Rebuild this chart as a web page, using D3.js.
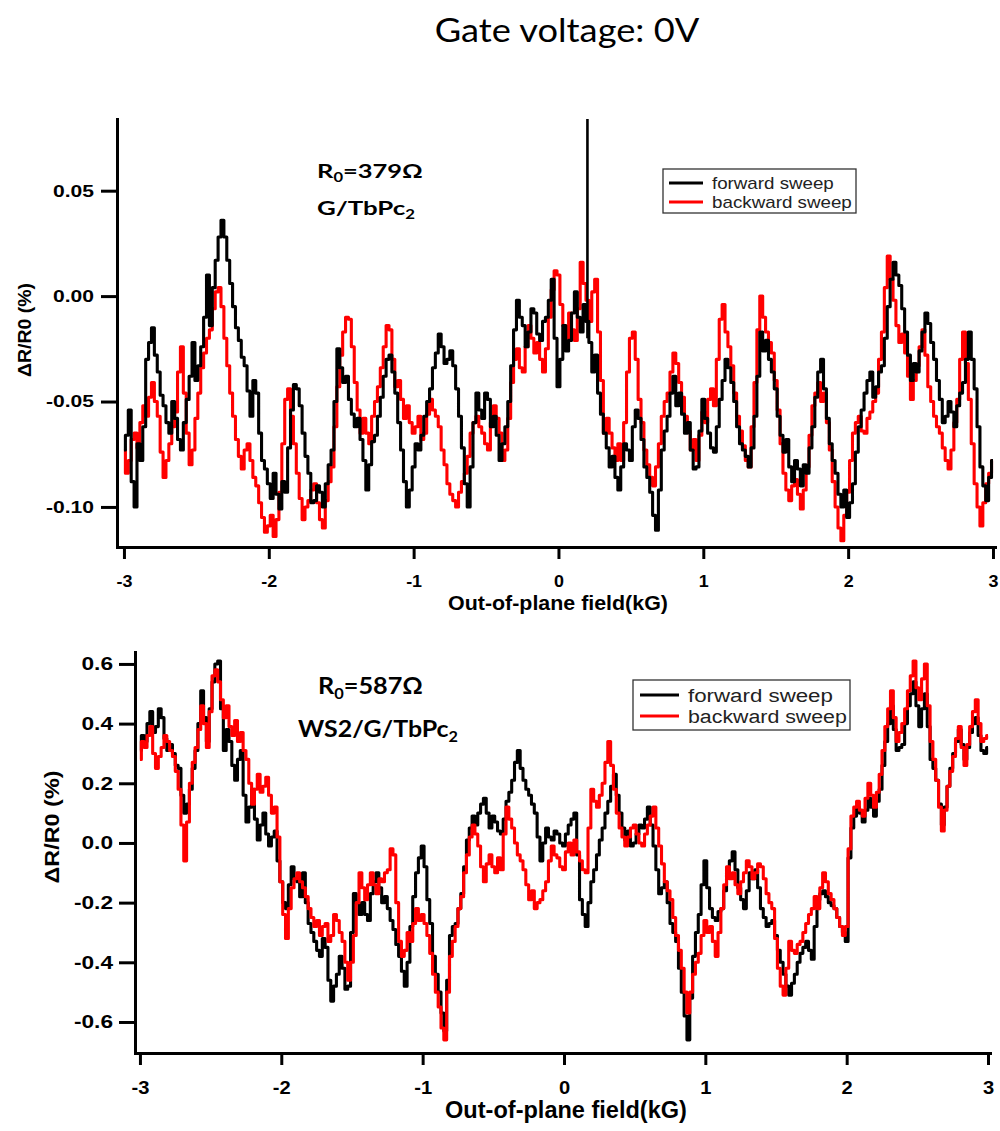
<!DOCTYPE html>
<html><head><meta charset="utf-8">
<script src="https://cdn.jsdelivr.net/npm/d3@7"></script>
<style>body{margin:0;background:#fff} svg{display:block}</style>
</head><body>
<svg id="chart" width="1000" height="1131"></svg>
<script>
// ---------------- DATA ----------------
const titleText = "Gate voltage: 0V";
const fieldStart = -3.0, fieldStep = 0.02;           // sampling grid of the field (kG)
const fieldTicks = [-3, -2, -1, 0, 1, 2, 3];
const seriesNames = ["forward sweep", "backward sweep"];

// Panel 1: G/TbPc2, R0 = 379 Ω
const topYTicks = [0.05, 0.00, -0.05, -0.10];
const topForward = [
 -0.073,-0.066,-0.054,-0.088,-0.100,-0.070,-0.078,-0.062,-0.030,-0.022,
 -0.015,-0.028,-0.036,-0.047,-0.052,-0.060,-0.065,-0.050,-0.058,-0.068,
 -0.073,-0.060,-0.049,-0.038,-0.022,-0.040,-0.033,-0.024,-0.010, 0.010,
 -0.014, 0.004, 0.017, 0.028, 0.036, 0.028, 0.017, 0.006,-0.005,-0.015,
 -0.021,-0.029,-0.033,-0.045,-0.057,-0.040,-0.046,-0.065,-0.078,-0.082,
 -0.089,-0.096,-0.084,-0.094,-0.101,-0.088,-0.093,-0.072,-0.054,-0.042,
 -0.044,-0.052,-0.065,-0.076,-0.084,-0.098,-0.097,-0.090,-0.093,-0.100,
 -0.089,-0.080,-0.073,-0.050,-0.025,-0.034,-0.041,-0.038,-0.049,-0.056,
 -0.062,-0.058,-0.068,-0.078,-0.092,-0.080,-0.069,-0.066,-0.057,-0.048,
 -0.038,-0.030,-0.028,-0.036,-0.046,-0.060,-0.073,-0.088,-0.100,-0.092,
 -0.081,-0.070,-0.073,-0.066,-0.057,-0.050,-0.044,-0.034,-0.027,-0.018,
 -0.024,-0.032,-0.030,-0.026,-0.033,-0.044,-0.057,-0.072,-0.089,-0.100,
 -0.081,-0.060,-0.046,-0.054,-0.058,-0.046,-0.049,-0.062,-0.057,-0.066,
 -0.078,-0.070,-0.062,-0.050,-0.033,-0.016,-0.002,-0.010,-0.014,-0.024,
 -0.017,-0.006,-0.008,-0.018,-0.021,-0.012,-0.010,-0.002, 0.008,-0.020,
 -0.043,-0.030,-0.014,-0.026,-0.021,-0.008, 0.002,-0.010,-0.017,-0.004,
 -0.012,-0.022,-0.036,-0.028,-0.046,-0.056,-0.065,-0.072,-0.081,-0.076,
 -0.086,-0.092,-0.081,-0.070,-0.073,-0.078,-0.062,-0.054,-0.058,-0.068,
 -0.081,-0.086,-0.093,-0.104,-0.111,-0.092,-0.073,-0.064,-0.057,-0.046,
 -0.038,-0.052,-0.046,-0.056,-0.065,-0.060,-0.073,-0.082,-0.081,-0.064,
 -0.049,-0.058,-0.065,-0.072,-0.074,-0.062,-0.049,-0.040,-0.030,-0.034,
 -0.041,-0.050,-0.062,-0.070,-0.073,-0.076,-0.081,-0.072,-0.057,-0.038,
 -0.017,-0.026,-0.021,-0.030,-0.036,-0.044,-0.057,-0.066,-0.074,-0.068,
 -0.081,-0.088,-0.078,-0.082,-0.090,-0.080,-0.084,-0.072,-0.062,-0.048,
 -0.036,-0.030,-0.044,-0.058,-0.070,-0.078,-0.084,-0.094,-0.100,-0.092,
 -0.105,-0.098,-0.089,-0.074,-0.062,-0.054,-0.046,-0.040,-0.036,-0.048,
 -0.043,-0.036,-0.033,-0.020,-0.005, 0.008, 0.016, 0.010, 0.005,-0.006,
 -0.017,-0.028,-0.040,-0.032,-0.036,-0.026,-0.017,-0.008,-0.013,-0.022,
 -0.030,-0.040,-0.049,-0.060,-0.057,-0.050,-0.055,-0.062,-0.052,-0.046,
 -0.041,-0.030,-0.017,-0.030,-0.044,-0.062,-0.081,-0.090,-0.097,-0.086,
 -0.078];
const topBackward = [
 -0.073,-0.084,-0.078,-0.068,-0.065,-0.072,-0.060,-0.052,-0.057,-0.048,
 -0.041,-0.050,-0.057,-0.074,-0.086,-0.078,-0.070,-0.062,-0.055,-0.036,
 -0.024,-0.046,-0.065,-0.080,-0.073,-0.058,-0.046,-0.034,-0.027,-0.020,
 -0.016,-0.006, 0.002, 0.004,-0.005,-0.020,-0.033,-0.046,-0.057,-0.068,
 -0.076,-0.082,-0.073,-0.070,-0.078,-0.086,-0.090,-0.098,-0.105,-0.112,
 -0.109,-0.104,-0.114,-0.106,-0.093,-0.070,-0.049,-0.044,-0.057,-0.070,
 -0.084,-0.096,-0.106,-0.100,-0.097,-0.092,-0.089,-0.098,-0.106,-0.110,
 -0.097,-0.088,-0.081,-0.062,-0.043,-0.028,-0.017,-0.010,-0.011,-0.024,
 -0.041,-0.054,-0.065,-0.058,-0.065,-0.070,-0.057,-0.050,-0.043,-0.034,
 -0.024,-0.014,-0.016,-0.030,-0.043,-0.040,-0.049,-0.058,-0.052,-0.060,
 -0.065,-0.062,-0.057,-0.068,-0.065,-0.056,-0.049,-0.054,-0.057,-0.062,
 -0.073,-0.080,-0.089,-0.094,-0.097,-0.100,-0.093,-0.088,-0.084,-0.076,
 -0.065,-0.060,-0.057,-0.062,-0.065,-0.070,-0.073,-0.060,-0.052,-0.058,
 -0.065,-0.078,-0.073,-0.058,-0.041,-0.030,-0.025,-0.034,-0.036,-0.024,
 -0.014,-0.020,-0.027,-0.022,-0.030,-0.036,-0.025,-0.010, 0.003, 0.012,
  0.010,-0.004,-0.014,-0.020,-0.008,-0.016,-0.021,-0.006, 0.016, 0.006,
 -0.002,-0.012, 0.002, 0.008,-0.017,-0.040,-0.065,-0.058,-0.065,-0.072,
 -0.078,-0.070,-0.078,-0.060,-0.036,-0.020,-0.017,-0.030,-0.049,-0.060,
 -0.073,-0.080,-0.086,-0.090,-0.081,-0.070,-0.057,-0.050,-0.046,-0.036,
 -0.027,-0.032,-0.041,-0.048,-0.057,-0.064,-0.073,-0.068,-0.078,-0.066,
 -0.055,-0.060,-0.049,-0.044,-0.052,-0.030,-0.011,-0.004,-0.017,-0.024,
 -0.033,-0.046,-0.057,-0.064,-0.071,-0.078,-0.081,-0.062,-0.041,-0.016,
  0.000,-0.010,-0.017,-0.022,-0.027,-0.040,-0.054,-0.070,-0.084,-0.092,
 -0.097,-0.090,-0.087,-0.094,-0.101,-0.092,-0.081,-0.066,-0.052,-0.046,
 -0.041,-0.050,-0.046,-0.060,-0.073,-0.088,-0.100,-0.110,-0.116,-0.104,
 -0.093,-0.078,-0.065,-0.060,-0.057,-0.064,-0.065,-0.058,-0.055,-0.050,
 -0.046,-0.030,-0.017, 0.004, 0.019, 0.008,-0.002,-0.014,-0.022,-0.018,
 -0.027,-0.038,-0.049,-0.040,-0.033,-0.024,-0.016,-0.028,-0.043,-0.050,
 -0.057,-0.062,-0.065,-0.072,-0.078,-0.082,-0.073,-0.060,-0.049,-0.030,
 -0.017,-0.032,-0.049,-0.070,-0.089,-0.100,-0.109,-0.098,-0.089,-0.084,
 -0.078];
// single glitch of the forward sweep near 0.2 kG
const topSpikeField = [0.2];
const topSpikeLow = [-0.02];
const topSpikeHigh = [0.09];

// Panel 2: WS2/G/TbPc2, R0 = 587 Ω
const bottomYTicks = [0.6, 0.4, 0.2, 0.0, -0.2, -0.4, -0.6];
const bottomForward = [
  0.31, 0.36, 0.34, 0.40, 0.44, 0.37, 0.39, 0.45, 0.42, 0.35,
  0.31, 0.33, 0.30, 0.26, 0.25, 0.16, 0.10, 0.13, 0.18, 0.25,
  0.31, 0.40, 0.51, 0.42, 0.34, 0.45, 0.54, 0.60, 0.61, 0.45,
  0.31, 0.38, 0.34, 0.26, 0.21, 0.28, 0.31, 0.16, 0.07, 0.12,
  0.18, 0.08, 0.01, 0.06, 0.10, 0.03,-0.01, 0.02, 0.04,-0.06,
 -0.13,-0.20,-0.22,-0.14,-0.08,-0.12,-0.13,-0.18,-0.10,-0.20,
 -0.27,-0.30,-0.33,-0.36,-0.38,-0.32,-0.35,-0.46,-0.53,-0.48,
 -0.44,-0.38,-0.42,-0.49,-0.48,-0.30,-0.17,-0.20,-0.24,-0.20,
 -0.24,-0.26,-0.17,-0.13,-0.10,-0.15,-0.20,-0.18,-0.22,-0.26,
 -0.29,-0.34,-0.38,-0.43,-0.48,-0.40,-0.28,-0.18,-0.10,-0.05,
 -0.01,-0.08,-0.19,-0.27,-0.38,-0.44,-0.50,-0.57,-0.63,-0.46,
 -0.31,-0.28,-0.27,-0.22,-0.17,-0.08, 0.01, 0.05, 0.09, 0.06,
  0.10, 0.13, 0.15, 0.10, 0.05, 0.09, 0.07, 0.04, 0.03, 0.08,
  0.14, 0.17, 0.21, 0.27, 0.31, 0.25, 0.21, 0.18, 0.16, 0.13,
  0.10, 0.02,-0.06, 0.00, 0.05, 0.02, 0.01, 0.04, 0.03, 0.00,
 -0.01, 0.03, 0.06, 0.08, 0.10,-0.04,-0.19,-0.24,-0.28,-0.20,
 -0.13,-0.09,-0.04, 0.01, 0.05, 0.10, 0.14, 0.19, 0.23, 0.16,
  0.10, 0.05, 0.01, 0.04,-0.01, 0.00, 0.03, 0.06, 0.05, 0.08,
  0.12, 0.06,-0.01,-0.09,-0.17,-0.15,-0.13,-0.20,-0.27,-0.30,
 -0.33,-0.42,-0.50,-0.58,-0.66,-0.52,-0.38,-0.30,-0.24,-0.14,
 -0.06,-0.15,-0.22,-0.25,-0.26,-0.23,-0.22,-0.16,-0.10,-0.06,
 -0.03,-0.09,-0.15,-0.19,-0.22,-0.16,-0.10,-0.12,-0.09,-0.15,
 -0.22,-0.25,-0.28,-0.27,-0.26,-0.31,-0.36,-0.40,-0.44,-0.48,
 -0.51,-0.47,-0.44,-0.40,-0.37,-0.35,-0.33,-0.36,-0.39,-0.28,
 -0.19,-0.17,-0.16,-0.18,-0.20,-0.21,-0.22,-0.25,-0.28,-0.30,
 -0.33,-0.05, 0.05, 0.09, 0.12, 0.10, 0.07, 0.11, 0.15, 0.12,
  0.09, 0.14, 0.18, 0.26, 0.34, 0.40, 0.46, 0.38, 0.31, 0.32,
  0.33, 0.40, 0.46, 0.50, 0.54, 0.46, 0.39, 0.45, 0.50, 0.39,
  0.28, 0.25, 0.21, 0.13, 0.06, 0.12, 0.19, 0.25, 0.30, 0.34,
  0.38, 0.33, 0.28, 0.32, 0.37, 0.40, 0.42, 0.36, 0.31, 0.30,
  0.32];
const bottomBackward = [
  0.28, 0.34, 0.32, 0.36, 0.39, 0.30, 0.25, 0.29, 0.32, 0.36,
  0.34, 0.31, 0.29, 0.24, 0.18, 0.06,-0.06, 0.07, 0.20, 0.27,
  0.32, 0.38, 0.46, 0.40, 0.32, 0.44, 0.56, 0.58, 0.54, 0.48,
  0.42, 0.46, 0.39, 0.36, 0.41, 0.34, 0.37, 0.31, 0.28, 0.20,
  0.13, 0.18, 0.23, 0.17, 0.19, 0.22, 0.16, 0.10, 0.12, 0.02,
 -0.13,-0.24,-0.32,-0.22,-0.15,-0.12,-0.10,-0.13,-0.15,-0.18,
 -0.22,-0.25,-0.28,-0.26,-0.31,-0.28,-0.27,-0.33,-0.31,-0.24,
 -0.26,-0.30,-0.33,-0.40,-0.46,-0.40,-0.31,-0.20,-0.10,-0.15,
 -0.19,-0.14,-0.10,-0.14,-0.17,-0.12,-0.13,-0.10,-0.09,-0.02,
 -0.04,-0.20,-0.33,-0.38,-0.36,-0.30,-0.33,-0.27,-0.22,-0.26,
 -0.24,-0.27,-0.31,-0.37,-0.44,-0.50,-0.55,-0.62,-0.66,-0.50,
 -0.38,-0.33,-0.28,-0.22,-0.18,-0.10,-0.04, 0.02, 0.06, 0.03,
 -0.01,-0.08,-0.13,-0.07,-0.04,-0.08,-0.10,-0.05,-0.09, 0.03,
  0.12, 0.08, 0.05, 0.00,-0.04,-0.06,-0.09,-0.14,-0.19,-0.16,
 -0.22,-0.20,-0.19,-0.16,-0.13,-0.06,-0.01,-0.04,-0.05,-0.08,
 -0.09,-0.03, 0.00,-0.04, 0.01,-0.03,-0.06,-0.09,-0.10, 0.05,
  0.18, 0.14, 0.12, 0.16, 0.20, 0.27, 0.34, 0.26, 0.18, 0.10,
  0.05, 0.02,-0.01, 0.02, 0.05, 0.06, 0.03, 0.00,-0.01, 0.03,
  0.06, 0.09, 0.12, 0.05,-0.01,-0.07,-0.13,-0.16,-0.19,-0.25,
 -0.31,-0.36,-0.42,-0.50,-0.57,-0.50,-0.44,-0.40,-0.37,-0.31,
 -0.26,-0.30,-0.28,-0.33,-0.38,-0.30,-0.22,-0.14,-0.08,-0.12,
 -0.10,-0.14,-0.17,-0.13,-0.10,-0.06,-0.08,-0.12,-0.10,-0.07,
 -0.08,-0.12,-0.17,-0.20,-0.22,-0.32,-0.42,-0.48,-0.51,-0.42,
 -0.33,-0.36,-0.37,-0.34,-0.33,-0.30,-0.27,-0.24,-0.22,-0.18,
 -0.22,-0.15,-0.10,-0.13,-0.17,-0.19,-0.22,-0.25,-0.28,-0.31,
 -0.28,-0.02, 0.09, 0.12, 0.14, 0.11, 0.09, 0.15, 0.20, 0.16,
  0.12, 0.17, 0.23, 0.31, 0.39, 0.45, 0.51, 0.42, 0.34, 0.37,
  0.40, 0.45, 0.51, 0.56, 0.61, 0.52, 0.48, 0.55, 0.60, 0.46,
  0.34, 0.28, 0.21, 0.12, 0.04, 0.11, 0.19, 0.24, 0.29, 0.35,
  0.39, 0.32, 0.26, 0.33, 0.39, 0.44, 0.48, 0.40, 0.34, 0.35,
  0.36];

// ---------------- DRAWING ----------------
const svg = d3.select("#chart");
const AXIS_FONT = "'Liberation Sans', Arial, sans-serif";
const NOTE_FONT = "Lato, 'Open Sans', sans-serif";
const hy = s => s.replace(/\u2212/g, "-");

// horizontally scale a text element about an anchor so it has a given width
function fitWidth(sel, target, anchor) {
  const n = sel.node(); const b = n.getBBox();
  if (!b.width) return;
  const sx = target / b.width;
  const ax = anchor === "end" ? b.x + b.width : anchor === "middle" ? b.x + b.width / 2 : b.x;
  const prev = sel.attr("transform") || "";
  sel.attr("transform", `${prev} translate(${ax},0) scale(${sx},1) translate(${-ax},0)`);
}
function stretch(sel, f, anchor) {
  sel.each(function () { const s = d3.select(this); fitWidth(s, this.getBBox().width * f, anchor); });
}

// title
const title = svg.append("text").attr("x", 567).attr("y", 42).attr("text-anchor", "middle")
  .style("font-family", NOTE_FONT).style("font-size", "32px").attr("fill", "#000").text(titleText);
fitWidth(title, 265, "middle");

function toSeries(vals) { return vals.map((v, i) => ({ f: fieldStart + i * fieldStep, v })); }

function panel(c) {
  const g = svg.append("g");
  const x = d3.scaleLinear().domain(c.xDomain).range(c.xRange);
  const y = d3.scaleLinear().domain(c.yDomain).range(c.yRange);
  const clipId = "clip" + c.id;
  svg.append("clipPath").attr("id", clipId).append("rect")
    .attr("x", c.xRange[0]).attr("y", c.yRange[1])
    .attr("width", c.xRange[1] - c.xRange[0]).attr("height", c.yRange[0] - c.yRange[1]);

  const line = d3.line().x(d => x(d.f)).y(d => y(d.v)).curve(d3.curveStep);
  const plot = g.append("g").attr("clip-path", `url(#${clipId})`);
  c.order.forEach(s => {
    plot.append("path").datum(toSeries(s.values))
      .attr("fill", "none").attr("stroke", s.color).attr("stroke-width", 3.1)
      .attr("stroke-linejoin", "round").attr("d", line);
  });
  if (c.spike) {
    c.spike.field.forEach((f, i) => {
      plot.append("line").attr("x1", x(f)).attr("x2", x(f))
        .attr("y1", y(c.spike.low[i])).attr("y2", y(c.spike.high[i]))
        .attr("stroke", "#000").attr("stroke-width", 2.6);
    });
  }

  // axes
  const xAxis = g.append("g").attr("transform", `translate(0,${c.yRange[0]})`)
    .call(d3.axisBottom(x).tickValues(fieldTicks).tickSizeInner(c.xTickSize).tickSizeOuter(0)
      .tickPadding(c.xTickPad).tickFormat(d => hy(d3.format("d")(d))));
  const yAxis = g.append("g").attr("transform", `translate(${c.xRange[0]},0)`)
    .call(d3.axisLeft(y).tickValues(c.yTicks).tickSizeInner(c.yTickSize).tickSizeOuter(0)
      .tickPadding(c.yTickPad).tickFormat(d => hy(d3.format(c.yFormat)(d))));
  [xAxis, yAxis].forEach(a => {
    a.select(".domain").attr("stroke", "#000").attr("stroke-width", 3).attr("stroke-linecap", "square");
    a.selectAll(".tick line").attr("stroke", "#000").attr("stroke-width", 3);
    a.selectAll("text").style("font-family", AXIS_FONT).style("font-weight", "bold").attr("fill", "#000");
  });
  xAxis.selectAll("text").style("font-size", c.xTickFont + "px");
  yAxis.selectAll("text").style("font-size", c.yTickFont + "px");
  stretch(xAxis.selectAll(".tick text"), c.xTickStretch, "middle");
  stretch(yAxis.selectAll(".tick text"), c.yTickStretch, "end");

  // axis titles
  const xt = g.append("text").attr("x", c.xTitle[0]).attr("y", c.xTitle[1]).attr("text-anchor", "middle")
    .style("font-family", AXIS_FONT).style("font-weight", "bold").style("font-size", c.xTitleFont + "px")
    .text("Out-of-plane field(kG)");
  fitWidth(xt, c.xTitle[2], "middle");
  const ytg = g.append("g").attr("transform", `translate(${c.yTitle[0]},${c.yTitle[1]}) rotate(-90)`);
  const yt = ytg.append("text").attr("x", 0).attr("y", 0).attr("text-anchor", "middle").attr("dy", "0.35em")
    .style("font-family", AXIS_FONT).style("font-weight", "bold").style("font-size", c.yTitleFont + "px")
    .text("\u0394R/R0 (%)");
  fitWidth(yt, c.yTitle[2], "middle");

  // annotations (with subscripts)
  c.notes.forEach(nt => {
    const t = g.append("text").attr("x", nt.x).attr("y", nt.y)
      .style("font-family", NOTE_FONT).style("font-weight", "bold").style("font-size", nt.size + "px");
    let shift = 0;
    nt.parts.forEach(p => {
      if (p.sub) {
        t.append("tspan").attr("dy", nt.size * 0.22).style("font-size", (nt.size * 0.65) + "px").text(p.sub);
        shift = nt.size * 0.22;
      } else {
        const ts = t.append("tspan").text(p.t);
        if (shift) { ts.attr("dy", -shift); shift = 0; }
      }
    });
    fitWidth(t, nt.w, "start");
  });

  // legend
  const L = c.legend;
  g.append("rect").attr("x", L.x).attr("y", L.y).attr("width", L.w).attr("height", L.h)
    .attr("fill", "#fff").attr("stroke", "#333").attr("stroke-width", 1.3);
  [{ n: seriesNames[0], col: "#000" }, { n: seriesNames[1], col: "#ff0000" }].forEach((it, i) => {
    const ly = L.rows[i];
    g.append("line").attr("x1", L.lx[0]).attr("x2", L.lx[1]).attr("y1", ly).attr("y2", ly)
      .attr("stroke", it.col).attr("stroke-width", 3);
    const t = g.append("text").attr("x", L.tx).attr("y", ly).attr("dy", "0.36em")
      .style("font-family", AXIS_FONT).style("font-size", L.font + "px").attr("fill", "#222").text(it.n);
    fitWidth(t, L.tw[i], "start");
  });
}

panel({
  id: "top",
  xDomain: [-3.048, 3.014], xRange: [117, 995],
  yDomain: [-0.119, 0.084], yRange: [547, 119],
  yTicks: topYTicks, yFormat: ".2f",
  xTickSize: 12, xTickPad: 17, xTickFont: 16, xTickStretch: 1.12,
  yTickSize: 16, yTickPad: 7, yTickFont: 17, yTickStretch: 1.24,
  xTitle: [558, 610, 220], xTitleFont: 21,
  yTitle: [25, 330, 94], yTitleFont: 18,
  order: [{ values: topBackward, color: "#ff0000" }, { values: topForward, color: "#000" }],
  spike: { field: topSpikeField, low: topSpikeLow, high: topSpikeHigh },
  notes: [
    { x: 317, y: 178, size: 19, w: 106, parts: [{ t: "R" }, { sub: "0" }, { t: "=379\u03A9" }] },
    { x: 317, y: 215, size: 19, w: 98, parts: [{ t: "G/TbPc" }, { sub: "2" }] }
  ],
  legend: { x: 663, y: 169, w: 193, h: 44, rows: [183, 202], lx: [669, 703], tx: 712, font: 16, tw: [122, 140] }
});

panel({
  id: "bottom",
  xDomain: [-3.035, 3.014], xRange: [135, 990],
  yDomain: [-0.704, 0.64], yRange: [1053, 652],
  yTicks: bottomYTicks, yFormat: ".1f",
  xTickSize: 12, xTickPad: 16, xTickFont: 18, xTickStretch: 1.12,
  yTickSize: 16, yTickPad: 6, yTickFont: 18, yTickStretch: 1.26,
  xTitle: [566, 1118, 242], xTitleFont: 23,
  yTitle: [52, 827, 113], yTitleFont: 21,
  order: [{ values: bottomForward, color: "#000" }, { values: bottomBackward, color: "#ff0000" }],
  spike: null,
  notes: [
    { x: 318, y: 694, size: 23, w: 105, parts: [{ t: "R" }, { sub: "0" }, { t: "=587\u03A9" }] },
    { x: 298, y: 737, size: 23, w: 160, parts: [{ t: "WS2/G/TbPc" }, { sub: "2" }] }
  ],
  legend: { x: 633, y: 680, w: 217, h: 50, rows: [695, 716], lx: [640, 679], tx: 688, font: 19, tw: [145, 159] }
});
</script>
</body></html>
